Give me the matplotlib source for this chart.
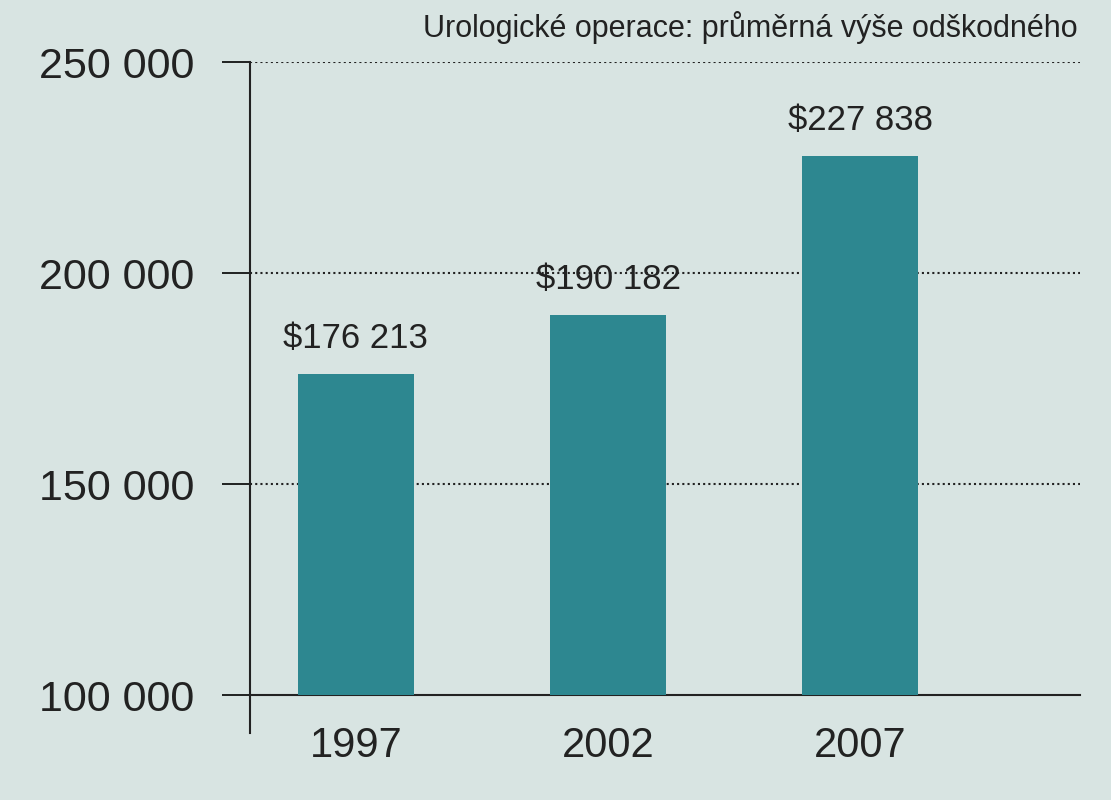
import matplotlib
matplotlib.use('Agg')
import matplotlib.pyplot as plt

years = ['1997', '2002', '2007']
values = [176213, 190182, 227838]
labels = ['$176 213', '$190 182', '$227 838']
yticks = [100000, 150000, 200000, 250000]
ytick_labels = ['100 000', '150 000', '200 000', '250 000']
title = 'Urologické operace: průměrná výše odškodného'

plt.rcParams['font.family'] = ['Liberation Sans Narrow', 'Liberation Sans', 'DejaVu Sans']
bg = '#d8e4e2'
bar_color = '#2d8790'

fig = plt.figure(figsize=(11.11, 8), dpi=100, facecolor=bg)
ax = fig.add_axes([0.225, 0.131, 0.747, 0.791], facecolor=bg)

x = list(range(len(years)))
ax.bar(x, values, width=0.46, color=bar_color, zorder=3)
for xi, v, lab in zip(x, values, labels):
    ax.text(xi, v + 4500, lab, ha='center', va='bottom', fontsize=25, color='#222222')

ax.set_xlim(-0.42, 2.87)
ax.set_ylim(100000, 250000)
ax.set_yticks(yticks)
ax.set_yticklabels(ytick_labels, fontsize=31, color='#222222')
ax.set_xticks(x)
ax.set_xticklabels(years, fontsize=30, color='#222222')
ax.tick_params(axis='y', length=20, width=1.2, pad=20)
ax.tick_params(axis='x', length=0, pad=22)

for t in yticks[1:]:
    ax.axhline(t, color='#222222', linestyle=(0, (1, 1.5)), linewidth=1.5, zorder=1)

for s in ['top', 'right', 'left']:
    ax.spines[s].set_visible(False)
ax.spines['bottom'].set_color('#222222')
ax.spines['bottom'].set_linewidth(1.5)
ax.plot([-0.42, -0.42], [91000, 250000], color='#222222', linewidth=1.5, clip_on=False, zorder=4)

fig.text(0.97, 0.965, title, ha='right', va='center', fontsize=22, color='#222222')

fig.savefig('out.png', dpi=100, facecolor=bg)
